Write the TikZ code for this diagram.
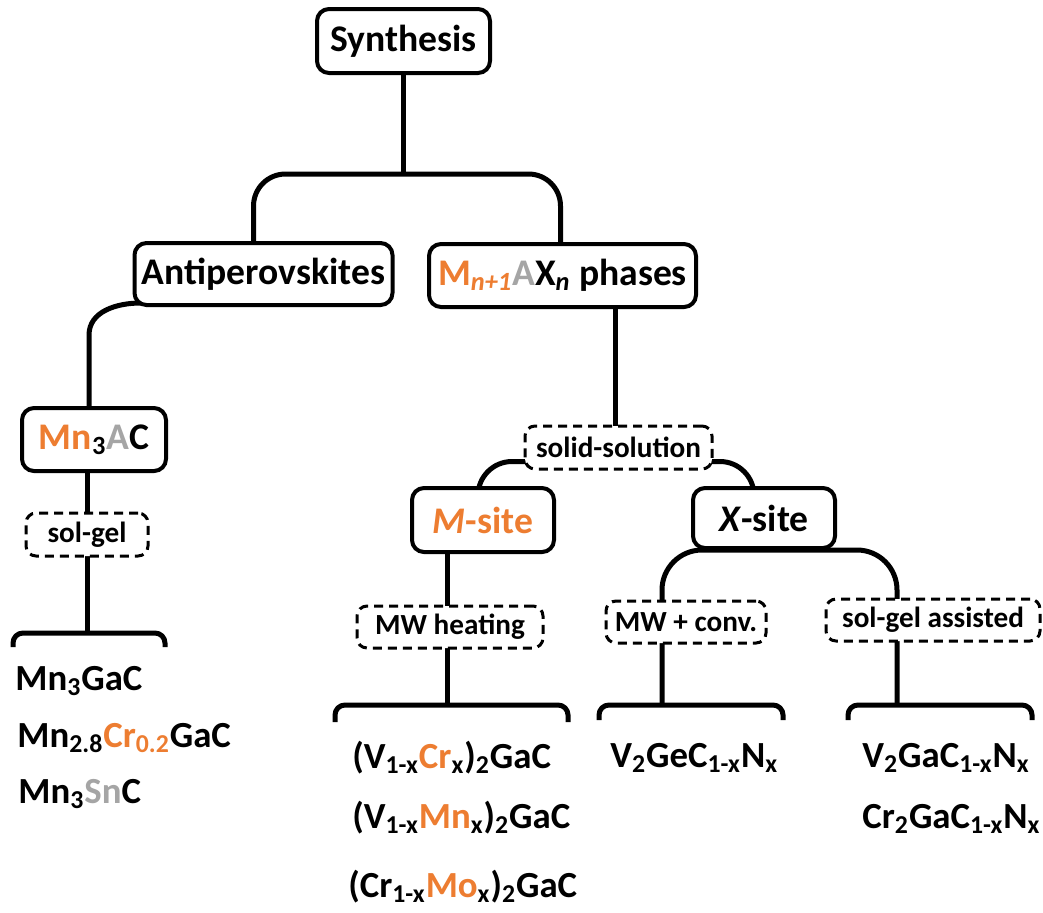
\documentclass[tikz,border=0pt]{standalone}
\usepackage{fontspec}
\setmainfont{Carlito}
\usetikzlibrary{backgrounds}
\definecolor{orng}{HTML}{ED7D31}
\definecolor{gry}{HTML}{A5A5A5}
\newcommand\boxfont{\fontsize{18.8}{22}\selectfont\bfseries}
\newcommand\itemfont{\fontsize{18.4}{22}\selectfont\bfseries}
\newcommand\tagfont{\fontsize{14.6}{17}\selectfont\bfseries}
\tikzset{
  box/.style={draw,line width=2pt,rounded corners=6pt,fill=white,inner sep=0pt,font=\boxfont},
  tag/.style={draw,line width=1.5pt,dash pattern=on 4.5pt off 3pt,rounded corners=5pt,fill=white,inner sep=0pt,font=\tagfont},
  conn/.style={line width=2.5pt},
  item/.style={anchor=base west,inner sep=0pt,font=\itemfont}
}
\begin{document}
\begin{tikzpicture}[x=.5pt,y=-.5pt]
\useasboundingbox (0,0) rectangle (1043,912);
\node[box,minimum width=86.5pt,minimum height=32pt] (syn) at (403.5,41) {Synthesis};
\node[box,minimum width=129pt,minimum height=31pt] (anti) at (263.5,274) {Antiperovskites};
\node[box,minimum width=133.5pt,minimum height=31.5pt] (max) at (562.5,275.5) {{\color{orng}M\textsubscript{\textit{n+1}}}{\color{gry}A}X\textsubscript{\textit{n}} phases};
\node[box,minimum width=72pt,minimum height=31.5pt] (mnac) at (94,439.5) {{\color{orng}Mn}\textsubscript{3}{\color{gry}A}C};
\node[tag,minimum width=61pt,minimum height=21.5pt] (solgel) at (87,534.5) {sol-gel};
\node[tag,minimum width=93.5pt,minimum height=21.5pt] (solsol) at (618.5,447.5) {solid-solution};
\node[box,minimum width=71pt,minimum height=32pt,text=orng] (msite) at (483,520) {\textit{M}-site};
\node[box,minimum width=71pt,minimum height=30pt] (xsite) at (764,518) {\textit{X}-site};
\node[tag,minimum width=93pt,minimum height=21pt] (mwheat) at (450,627) {MW heating};
\node[tag,minimum width=80pt,minimum height=21pt] (mwconv) at (686,622) {MW + conv.};
\node[tag,minimum width=107pt,minimum height=21pt] (solgelas) at (933,620) {sol-gel assisted};
\coordinate (split) at (403.5,174);
\coordinate (b1) at (89,633); \coordinate (b2) at (451.5,705);
\coordinate (b3) at (691,705); \coordinate (b4) at (940,705);
\coordinate (v3) at (662,705); \coordinate (v4) at (897,705);
\begin{pgfonlayer}{background}
\draw[conn] (syn) -- (split);
\draw[conn,rounded corners=16pt] ([xshift=-5pt]anti.center) |- (split) -| ([xshift=-1pt]max.center);
\draw[conn] ([xshift=4pt,yshift=2pt]anti.south west) to[out=180,in=90] (89,335) -- ([xshift=-2.5pt]mnac.center);
\draw[conn] (mnac.center -| solgel.center) -- (solgel.center |- b1);
\draw[conn] (max.center -| 615,0) -- (solsol.center -| 615,0);
\draw[conn,rounded corners=17pt] ([xshift=-2.5pt]msite.center) |- ([yshift=4.5pt]solsol.south) -| ([xshift=-5pt]xsite.center);
\draw[conn] (msite.center -| 447,0) -- (b2 -| 447,0);
\draw[conn,rounded corners=20pt] (v3) |- (xsite.south) -| (v4);
\end{pgfonlayer}
\foreach \b/\w/\h in {b1/76/14,b2/116.5/17,b3/92/15,b4/92/15}
  \draw[conn,rounded corners=5pt] (\b) ++(-\w,\h) |- ++(\w,-\h) -| ++(\w,\h);
\node[item] (mgac) at (15,690) {Mn\textsubscript{3}GaC};
\node[item] (mcgac) at (17,747) {Mn\textsubscript{2.8}{\color{orng}Cr\textsubscript{0.2}}GaC};
\node[item] (msnc) at (18,803) {Mn\textsubscript{3}{\color{gry}Sn}C};
\node[item] (vcr) at (352,768) {(V\textsubscript{1-x}{\color{orng}Cr}\textsubscript{x})\textsubscript{2}GaC};
\node[item] (vmn) at (352,828) {(V\textsubscript{1-x}{\color{orng}Mn}\textsubscript{x})\textsubscript{2}GaC};
\node[item] (crmo) at (348,897) {(Cr\textsubscript{1-x}{\color{orng}Mo}\textsubscript{x})\textsubscript{2}GaC};
\node[item] (vgen) at (610,767) {V\textsubscript{2}GeC\textsubscript{1-x}N\textsubscript{x}};
\node[item] (vgan) at (862,767) {V\textsubscript{2}GaC\textsubscript{1-x}N\textsubscript{x}};
\node[item] (crgan) at (862,828) {Cr\textsubscript{2}GaC\textsubscript{1-x}N\textsubscript{x}};
\end{tikzpicture}
\end{document}
